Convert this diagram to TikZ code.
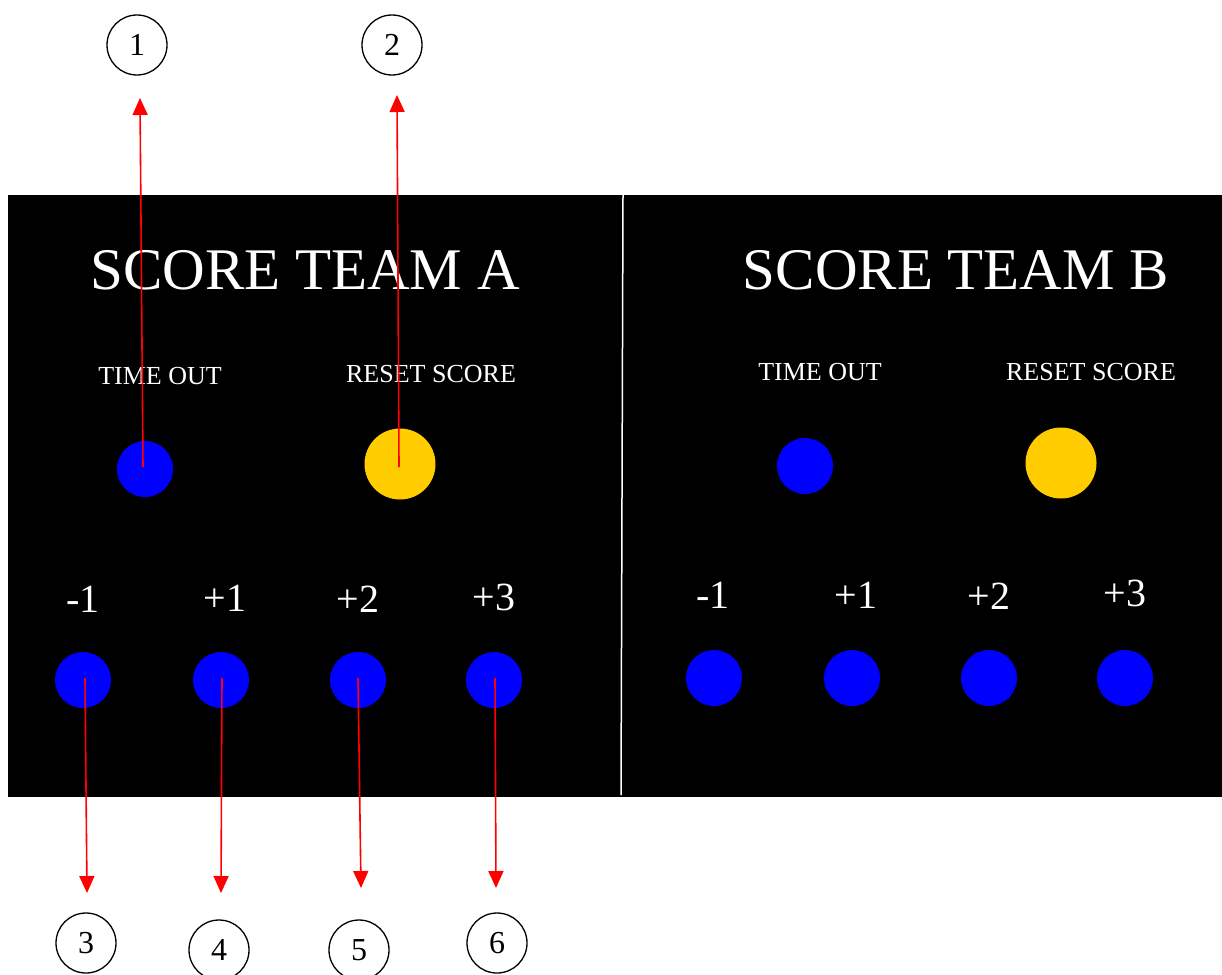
\documentclass[tikz,border=0pt]{standalone}
\usepackage{fontspec}
\setmainfont{Liberation Serif}
\usetikzlibrary{arrows.meta}
\definecolor{btnblue}{RGB}{0,0,255}
\definecolor{btnyellow}{RGB}{255,204,0}
\begin{document}
\begin{tikzpicture}[x=1pt,y=-1pt,
  title/.style={text=white,font=\fontsize{59}{59}\selectfont,inner sep=0pt,anchor=base},
  caption/.style={text=white,font=\fontsize{26}{26}\selectfont,inner sep=0pt,anchor=base},
  pts/.style={text=white,font=\fontsize{40}{40}\selectfont,inner sep=0pt,anchor=base},
  smalldot/.style={circle,fill=btnblue,minimum size=56pt,inner sep=0pt},
  bigdot/.style={circle,fill=btnyellow,minimum size=71pt,inner sep=0pt},
  callout/.style={circle,draw=black,line width=1.3pt,minimum size=60pt,inner sep=0pt,font=\fontsize{32}{32}\selectfont},
  pointer/.style={draw=red,line width=1.6pt,-{Triangle[width=15pt,length=17pt]}}
]
\useasboundingbox (0,0) rectangle (1222,974);
\fill[white] (0,0) rectangle (1222,974);
\fill[black] (8,195) rectangle (1222,797);
\coordinate (divtop) at (623,195);
\coordinate (divbot) at (621,795);
\draw[white,line width=1.5pt] (divtop) -- (divbot);

% Team A
\node[title] (ta) at (305,289) {SCORE TEAM A};
\node[caption] (toA) at (160,384) {TIME OUT};
\node[caption] (rsA) at (431,382) {RESET SCORE};
\node[smalldot] (dtoA) at (145,469) {};
\node[bigdot] (drsA) at (400,464) {};
\node[pts] (m1A) at (83,612) {-1};
\node[pts] (p1A) at (225,611) {+1};
\node[pts] (p2A) at (358,612) {+2};
\node[pts] (p3A) at (494,610) {+3};
\node[smalldot] (dm1A) at (83,680) {};
\node[smalldot] (dp1A) at (221,680) {};
\node[smalldot] (dp2A) at (358,680) {};
\node[smalldot] (dp3A) at (494,680) {};

% Team B
\node[title] (tb) at (956,289) {SCORE TEAM B};
\node[caption] (toB) at (820,380) {TIME OUT};
\node[caption] (rsB) at (1091,380) {RESET SCORE};
\node[smalldot] (dtoB) at (805,466) {};
\node[bigdot] (drsB) at (1061,463) {};
\node[pts] (m1B) at (713,608) {-1};
\node[pts] (p1B) at (856,608) {+1};
\node[pts] (p2B) at (989,609) {+2};
\node[pts] (p3B) at (1125,606) {+3};
\node[smalldot] (dm1B) at (714,678) {};
\node[smalldot] (dp1B) at (852,678) {};
\node[smalldot] (dp2B) at (989,678) {};
\node[smalldot] (dp3B) at (1125,678) {};

% callouts
\node[callout] (c1) at (137,45) {1};
\node[callout] (c2) at (392,45) {2};
\node[callout] (c3) at (86,943) {\raisebox{-3pt}{3}};
\node[callout] (c4) at (219,950) {\raisebox{-3pt}{4}};
\node[callout] (c5) at (359,950) {\raisebox{-3pt}{5}};
\node[callout] (c6) at (497,943) {\raisebox{-3pt}{6}};

\coordinate (e1) at (140,98);
\coordinate (e2) at (397,95);
\coordinate (e3) at (87,893);
\coordinate (e4) at (221,893);
\coordinate (e5) at (361,888);
\coordinate (e6) at (496,888);

\draw[pointer] ([xshift=-2pt,yshift=2pt]dtoA.center) -- (e1);
\draw[pointer] ([xshift=-1pt,yshift=-3pt]drsA.center) -- (e2);
\draw[pointer] ([xshift=2pt,yshift=2pt]dm1A.center) -- (e3);
\draw[pointer] ([xshift=1pt,yshift=2pt]dp1A.center) -- (e4);
\draw[pointer] ([yshift=2pt]dp2A.center) -- (e5);
\draw[pointer] ([xshift=1pt,yshift=2pt]dp3A.center) -- (e6);
\end{tikzpicture}
\end{document}
